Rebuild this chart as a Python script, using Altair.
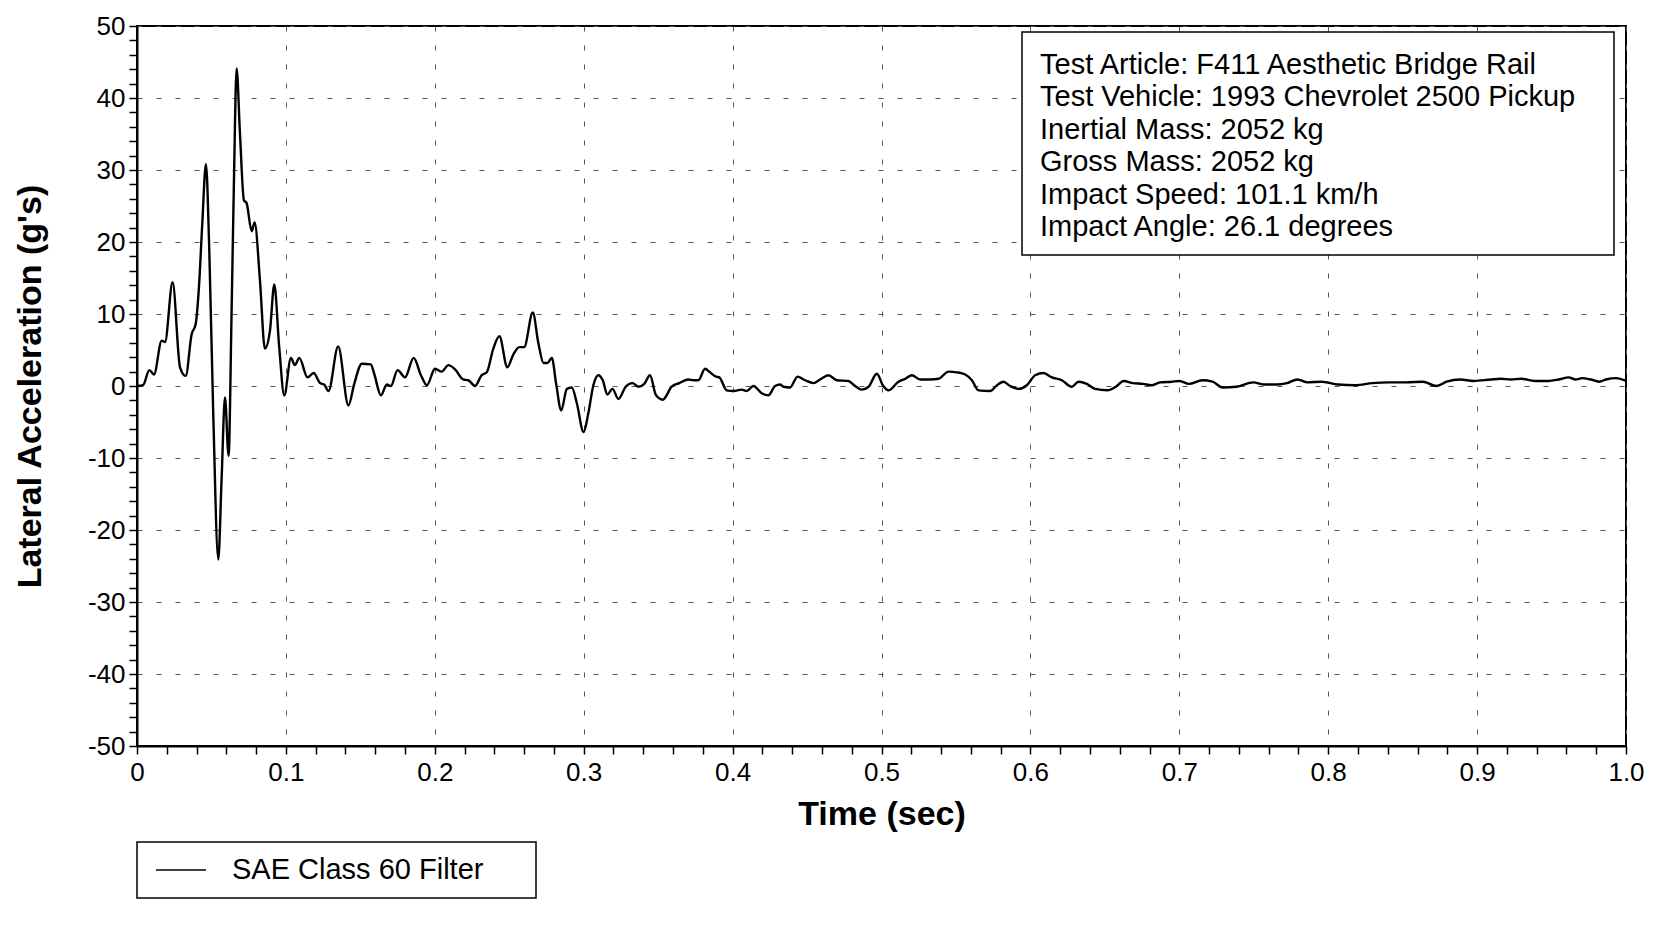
import altair as alt
import pandas as pd

# ---- data ----
time_s = [
    0.0, 0.004, 0.0083, 0.0114, 0.0166, 0.0188, 0.0239, 0.0289, 0.0327, 0.0367,
    0.0394, 0.0416, 0.0438, 0.0463, 0.0485, 0.0512, 0.0546, 0.0568, 0.0591, 0.0615,
    0.0635, 0.0651, 0.0669, 0.0691, 0.0718, 0.0736, 0.077, 0.079, 0.0826, 0.0859,
    0.0893, 0.0922, 0.0955, 0.0989,
    0.1034, 0.106, 0.109, 0.1145, 0.1186, 0.123, 0.1257, 0.1286, 0.1351, 0.142,
    0.1459, 0.151, 0.157, 0.1593, 0.1638, 0.1678, 0.1705, 0.175, 0.18, 0.1858,
    0.1907, 0.1947,
    0.2001, 0.2046, 0.2091, 0.2136, 0.2192, 0.2225, 0.227, 0.2315, 0.2349, 0.2393,
    0.2434, 0.2487, 0.2528, 0.2568, 0.26, 0.2658, 0.2696, 0.273, 0.2757, 0.2786,
    0.2815, 0.2849, 0.2887, 0.292, 0.2954, 0.2999,
    0.3031, 0.3065, 0.3098, 0.3128, 0.3159, 0.3193, 0.3233, 0.3282, 0.3327, 0.3367,
    0.3407, 0.3445, 0.3486, 0.3531, 0.3591, 0.3642, 0.3703, 0.3737, 0.377, 0.3815,
    0.3848, 0.3889, 0.3911, 0.396, 0.4005, 0.4061, 0.4095, 0.414, 0.4195, 0.424,
    0.4285, 0.4319,
    0.4342, 0.4386, 0.4436, 0.4487, 0.4543, 0.4588, 0.4644, 0.47, 0.4778, 0.4823,
    0.4868, 0.4913, 0.4969, 0.5009, 0.5047, 0.5114, 0.5159, 0.5204, 0.526, 0.5327,
    0.5383, 0.545, 0.5506, 0.5562, 0.5607, 0.5651, 0.573, 0.577, 0.5819, 0.5864,
    0.592, 0.5976, 0.6032, 0.6088, 0.6144, 0.6211, 0.6278, 0.6323, 0.6379, 0.6435,
    0.6517, 0.6574, 0.6626, 0.6688, 0.6756, 0.6813, 0.687, 0.695, 0.7, 0.7064,
    0.7155, 0.7223, 0.7292, 0.7383, 0.7497, 0.7565, 0.7656, 0.7724, 0.7793, 0.7861,
    0.7952, 0.8066, 0.818, 0.8296, 0.8408, 0.8522, 0.8636, 0.8727, 0.8795, 0.8886,
    0.8977, 0.9091, 0.9159, 0.9228, 0.9296, 0.9387, 0.9478, 0.9547, 0.9615, 0.9661,
    0.9706, 0.9763, 0.982, 0.9865, 0.9934, 1.0,
]
lat_g = [
    0.0, 0.1, 2.2, 1.6, 6.3, 6.1, 14.4, 2.6, 1.4, 7.2,
    8.6, 13.7, 22.4, 30.8, 19.2, -3.8, -24.1, -13.0, -1.6, -9.7,
    10.0, 28.4, 44.1, 35.3, 25.8, 25.4, 21.5, 22.7, 14.6, 5.2,
    7.7, 14.1, 5.4, -1.3,
    3.9, 2.9, 3.9, 1.2, 1.8, 0.4, 0.2, -0.7, 5.5, -2.7,
    0.3, 3.1, 3.0, 1.7, -1.3, 0.2, 0.0, 2.2, 1.2, 3.9,
    1.5, 0.1,
    2.4, 2.0, 2.9, 2.3, 0.9, 0.8, 0.0, 1.5, 1.9, 5.2,
    6.9, 2.6, 4.4, 5.4, 5.4, 10.2, 5.9, 3.2, 3.2, 3.9,
    0.3, -3.4, -0.4, -0.2, -2.4, -6.4,
    -3.8, 0.1, 1.5, 0.8, -1.2, -0.4, -1.8, -0.1, 0.4, -0.1,
    0.3, 1.5, -1.3, -1.9, -0.1, 0.4, 0.9, 0.8, 0.8, 2.4,
    1.9, 1.3, 1.2, -0.6, -0.7, -0.5, -0.7, 0.0, -1.0, -1.3,
    0.0, 0.2,
    -0.1, -0.2, 1.3, 0.8, 0.4, 0.9, 1.5, 0.8, 0.7, 0.0,
    -0.5, -0.1, 1.7, 0.1, -0.6, 0.6, 1.0, 1.5, 0.9, 0.9,
    1.0, 2.0, 1.9, 1.6, 0.8, -0.6, -0.7, 0.0, 0.6, 0.0,
    -0.4, 0.1, 1.5, 1.8, 1.2, 0.8, -0.1, 0.6, 0.3, -0.4,
    -0.6, -0.1, 0.7, 0.4, 0.3, 0.1, 0.5, 0.6, 0.7, 0.3,
    0.8, 0.6, -0.2, -0.1, 0.5, 0.2, 0.2, 0.4, 0.9, 0.5,
    0.6, 0.2, 0.1, 0.4, 0.5, 0.5, 0.6, 0.0, 0.6, 0.9,
    0.7, 0.9, 1.0, 0.9, 1.0, 0.7, 0.7, 0.9, 1.2, 0.9,
    1.1, 0.9, 0.6, 0.9, 1.1, 0.7,
]
x_tick_values = [0.0, 0.02, 0.04, 0.06, 0.08, 0.1, 0.12, 0.14, 0.16, 0.18,
                 0.2, 0.22, 0.24, 0.26, 0.28, 0.3, 0.32, 0.34, 0.36, 0.38,
                 0.4, 0.42, 0.44, 0.46, 0.48, 0.5, 0.52, 0.54, 0.56, 0.58,
                 0.6, 0.62, 0.64, 0.66, 0.68, 0.7, 0.72, 0.74, 0.76, 0.78,
                 0.8, 0.82, 0.84, 0.86, 0.88, 0.9, 0.92, 0.94, 0.96, 0.98, 1.0]
y_tick_values = list(range(-50, 52, 2))
info_lines = [
    "Test Article: F411 Aesthetic Bridge Rail",
    "Test Vehicle: 1993 Chevrolet 2500 Pickup",
    "Inertial Mass: 2052 kg",
    "Gross Mass: 2052 kg",
    "Impact Speed: 101.1 km/h",
    "Impact Angle: 26.1 degrees",
]
legend_label = "SAE Class 60 Filter"
x_title = "Time (sec)"
y_title = "Lateral Acceleration (g's)"

FONT = "Liberation Sans"
PW, PH = 1489, 720

df = pd.DataFrame({"t": time_s, "g": lat_g})

x_major = "abs(datum.value*10 - round(datum.value*10)) < 0.001"
y_major = "abs(datum.value % 10) < 0.001"

x_axis = alt.Axis(
    values=x_tick_values,
    labelExpr=f"{x_major} ? (datum.value == 0 ? '0' : format(datum.value, '.1f')) : ''",
    labelOverlap=False, labelFlush=False, labelFontSize=26, labelPadding=5,
    labelColor="black", labelFont=FONT,
    tickSize=8, tickWidth=1.5, tickColor="black",
    domainColor="black", domainWidth=2,
    grid=True, gridColor="#555555", gridWidth=1, gridDash=[5, 14],
    gridOpacity={"condition": {"test": x_major, "value": 1}, "value": 0},
    titleFont=FONT, titleFontSize=34, titleFontWeight="bold", titleColor="black",
    titleX=PW / 2, titleY=68, titleAlign="center", titleBaseline="middle",
)
y_axis = alt.Axis(
    values=y_tick_values,
    labelExpr=f"{y_major} ? '' + datum.value : ''",
    labelOverlap=False, labelFlush=False, labelFontSize=26, labelPadding=4,
    labelColor="black", labelFont=FONT,
    tickSize=8, tickWidth=1.5, tickColor="black",
    domainColor="black", domainWidth=2,
    grid=True, gridColor="#555555", gridWidth=1, gridDash=[5, 14],
    gridOpacity={"condition": {"test": y_major, "value": 1}, "value": 0},
    titleFont=FONT, titleFontSize=34, titleFontWeight="bold", titleColor="black",
    titleX=-107, titleY=PH / 2, titleAngle=270, titleAlign="center", titleBaseline="middle",
)

line = alt.Chart(df).mark_line(color="black", strokeWidth=2.4, interpolate="monotone").encode(
    x=alt.X("t:Q", scale=alt.Scale(domain=[0, 1], nice=False, zero=False), axis=x_axis, title=x_title),
    y=alt.Y("g:Q", scale=alt.Scale(domain=[-50, 50], nice=False, zero=False), axis=y_axis, title=y_title),
)

one = pd.DataFrame({"txt": ["\n".join(info_lines)]})
info_box = alt.Chart(one).mark_rect(fill="white", stroke="black", strokeWidth=1.5).encode(
    x=alt.value(885), x2=alt.value(1477), y=alt.value(6), y2=alt.value(229)
)
info_text = alt.Chart(one).mark_text(
    align="left", baseline="top", lineBreak="\n", lineHeight=32.5,
    font=FONT, fontSize=29, color="black"
).encode(x=alt.value(903), y=alt.value(24.5), text="txt:N")

leg = pd.DataFrame({"txt": [legend_label]})
leg_box = alt.Chart(leg).mark_rect(fill="white", stroke="black", strokeWidth=1.5).encode(
    x=alt.value(0), x2=alt.value(399), y=alt.value(816), y2=alt.value(872)
)
leg_rule = alt.Chart(leg).mark_rule(color="black", strokeWidth=1.5).encode(
    x=alt.value(19), x2=alt.value(69), y=alt.value(844)
)
leg_text = alt.Chart(leg).mark_text(
    align="left", baseline="middle", font=FONT, fontSize=29, color="black"
).encode(x=alt.value(95), y=alt.value(844), text="txt:N")

chart = alt.layer(line, info_box, info_text, leg_box, leg_rule, leg_text).properties(
    width=PW, height=PH,
    autosize=alt.AutoSizeParams(type="none"),
    padding={"left": 129, "top": 18, "right": 22, "bottom": 162},
    background="white",
).configure_view(stroke="black", strokeWidth=2)

chart.save("out.html", embed_options={"renderer": "svg", "actions": False})
